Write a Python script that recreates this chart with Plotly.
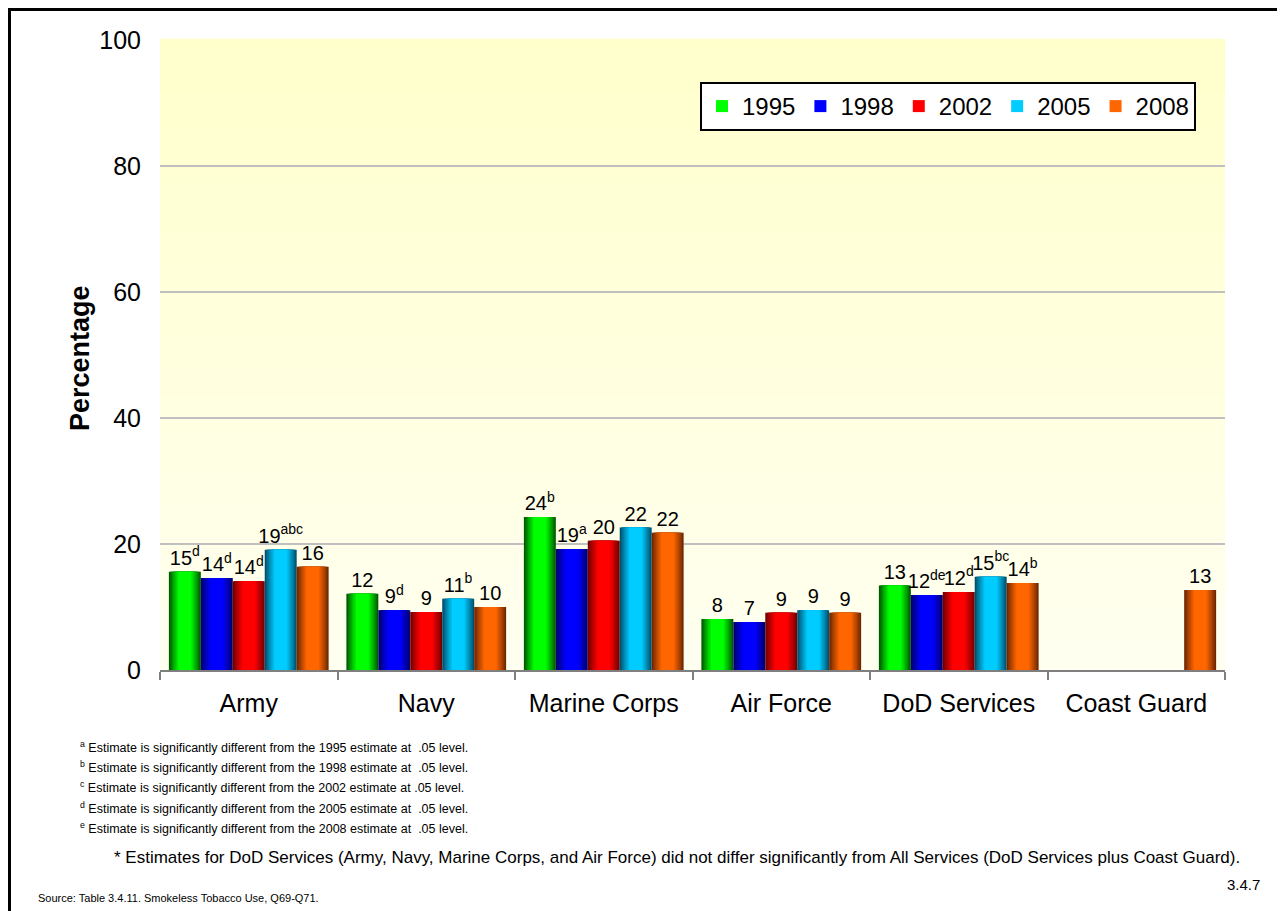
import plotly.graph_objects as go

# ---------------- data ----------------
categories = ["Army", "Navy", "Marine Corps", "Air Force", "DoD Services", "Coast Guard"]
years = ["1995", "1998", "2002", "2005", "2008"]
v1995 = [15.6, 12.1, 24.3, 8.1, 13.4, None]
v1998 = [14.6, 9.5, 19.2, 7.6, 11.9, None]
v2002 = [14.1, 9.2, 20.5, 9.1, 12.4, None]
v2005 = [19.1, 11.3, 22.6, 9.5, 14.8, None]
v2008 = [16.4, 10.0, 21.8, 9.1, 13.8, 12.7]
l1995 = ["15<sup>d</sup>", "12", "24<sup>b</sup>", "8", "13", ""]
l1998 = ["14<sup>d</sup>", "9<sup>d</sup>", "19<sup>a</sup>", "7", "12<sup>de</sup>", ""]
l2002 = ["14<sup>d</sup>", "9", "20", "9", "12<sup>d</sup>", ""]
l2005 = ["19<sup>abc</sup>", "11<sup>b</sup>", "22", "9", "15<sup>bc</sup>", ""]
l2008 = ["16", "10", "22", "9", "14<sup>b</sup>", "13"]
y_ticks = [0, 20, 40, 60, 80, 100]

footnotes = [
    "<sup>a</sup> Estimate is significantly different from the 1995 estimate at  .05 level.",
    "<sup>b</sup> Estimate is significantly different from the 1998 estimate at  .05 level.",
    "<sup>c</sup> Estimate is significantly different from the 2002 estimate at .05 level.",
    "<sup>d</sup> Estimate is significantly different from the 2005 estimate at  .05 level.",
    "<sup>e</sup> Estimate is significantly different from the 2008 estimate at  .05 level.",
]
star_note = ("* Estimates for DoD Services (Army, Navy, Marine Corps, and Air Force) did not differ "
             "significantly from All Services (DoD Services plus Coast Guard).")
source_note = "Source: Table 3.4.11. Smokeless Tobacco Use, Q69-Q71."
page_no = "3.4.7"

series_values = [v1995, v1998, v2002, v2005, v2008]
series_labels = [l1995, l1998, l2002, l2005, l2008]

# ---------------- style ----------------
BODY = 8  # default page margin around the plot div
WIN_W, WIN_H = 1285, 911
PL, PR, PT, PB = 160, 1225, 40, 670  # plot area in window pixels
W, H = WIN_W - BODY, WIN_H - BODY
ML, MT = PL - BODY, PT - BODY
MR, MB = WIN_W - PR, WIN_H - PB
PW, PH = PR - PL, PB - PT
FONT = "Liberation Sans, Arial, sans-serif"

edge_cols = [(0, 90, 0), (0, 0, 110), (115, 0, 0), (0, 80, 110), (110, 40, 0)]
center_cols = [(0, 255, 0), (0, 0, 255), (255, 0, 0), (0, 204, 255), (255, 102, 0)]

def px_x(p):
    return (p - PL) / PW

def px_y(p):
    return (PB - p) / PH

def rgb(c):
    return "rgb(%d,%d,%d)" % tuple(int(round(v)) for v in c)

def mix(a, b, t):
    return tuple(a[i] + (b[i] - a[i]) * t for i in range(3))

GROUP = 0.9
SLOT = GROUP / len(years)
NL = 8

fig = go.Figure()
for i, yr in enumerate(years):
    center = -GROUP / 2 + SLOT * (i + 0.5)
    for k in range(NL):
        t = k / (NL - 1)
        w = SLOT * (1 - 0.6 * t)
        col = mix(edge_cols[i], center_cols[i], t ** 0.9)
        first = k == 0
        last = k == NL - 1
        fig.add_trace(go.Bar(
            x=categories, y=series_values[i], name=yr,
            width=w, offset=center - w / 2,
            marker=dict(color=rgb(col if not last else center_cols[i]), line=dict(width=0)),
            text=series_labels[i] if first else None,
            textposition="outside" if first else "none",
            textfont=dict(family=FONT, size=20, color="black"),
            constraintext="none", cliponaxis=False,
            showlegend=last, legendgroup=yr, hoverinfo="skip",
        ))

# background gradient bands
shapes = []
NB = 60
for b in range(NB):
    t = b / (NB - 1)
    col = mix((255, 255, 240), (255, 255, 204), t)
    shapes.append(dict(type="rect", xref="paper", yref="paper",
                       x0=0, x1=1, y0=b / NB, y1=(b + 1) / NB + 0.002,
                       fillcolor=rgb(col), line=dict(width=0), layer="below"))
# outer frame
shapes.append(dict(type="rect", xref="paper", yref="paper",
                   x0=px_x(9.5), x1=px_x(1300), y0=px_y(930), y1=px_y(9.5),
                   line=dict(color="black", width=3), fillcolor="rgba(0,0,0,0)", layer="above"))

annotations = [dict(text="<b>Percentage</b>", xref="paper", yref="paper",
                    x=px_x(80), y=px_y(358), xanchor="center", yanchor="middle",
                    textangle=-90, showarrow=False,
                    font=dict(family=FONT, size=27, color="black"))]
for j, fn in enumerate(footnotes):
    annotations.append(dict(text=fn, xref="paper", yref="paper", x=px_x(78), y=px_y(747 + 20.2 * j),
                            xanchor="left", yanchor="middle", showarrow=False,
                            font=dict(family=FONT, size=12.5, color="black")))
annotations.append(dict(text=star_note, xref="paper", yref="paper", x=px_x(112), y=px_y(857),
                        xanchor="left", yanchor="middle", showarrow=False,
                        font=dict(family=FONT, size=17, color="black")))
annotations.append(dict(text=source_note, xref="paper", yref="paper", x=px_x(36), y=px_y(898),
                        xanchor="left", yanchor="middle", showarrow=False,
                        font=dict(family=FONT, size=11, color="black")))
annotations.append(dict(text=page_no, xref="paper", yref="paper", x=px_x(1262), y=px_y(884),
                        xanchor="right", yanchor="middle", showarrow=False,
                        font=dict(family=FONT, size=15, color="black")))

fig.update_layout(
    width=W, height=H,
    margin=dict(l=ML, r=MR, t=MT, b=MB, pad=0),
    paper_bgcolor="white", plot_bgcolor="rgba(0,0,0,0)",
    barmode="overlay",
    font=dict(family=FONT, color="black"),
    shapes=shapes, annotations=annotations,
    legend=dict(orientation="h", x=px_x(700), y=px_y(82), xanchor="left", yanchor="top",
                bgcolor="white", bordercolor="black", borderwidth=2,
                font=dict(family=FONT, size=24, color="black"),
                traceorder="normal", itemclick=False),
    xaxis=dict(type="category", categoryorder="array", categoryarray=categories,
               range=[-0.5, len(categories) - 0.5],
               showline=True, linecolor="#7f7f7f", linewidth=2,
               ticks="outside", tickson="boundaries", ticklen=8, tickwidth=2, tickcolor="#7f7f7f",
               showgrid=False, tickfont=dict(family=FONT, size=25, color="black"),
               ticklabelstandoff=10),
    yaxis=dict(range=[0, 100], tickvals=y_ticks, showgrid=True, gridcolor="#c0c0c0", gridwidth=1.5,
               zeroline=False, showline=False, ticks="",
               tickfont=dict(family=FONT, size=25, color="black"), ticklabelstandoff=18),
)

fig.write_html("out.html")
